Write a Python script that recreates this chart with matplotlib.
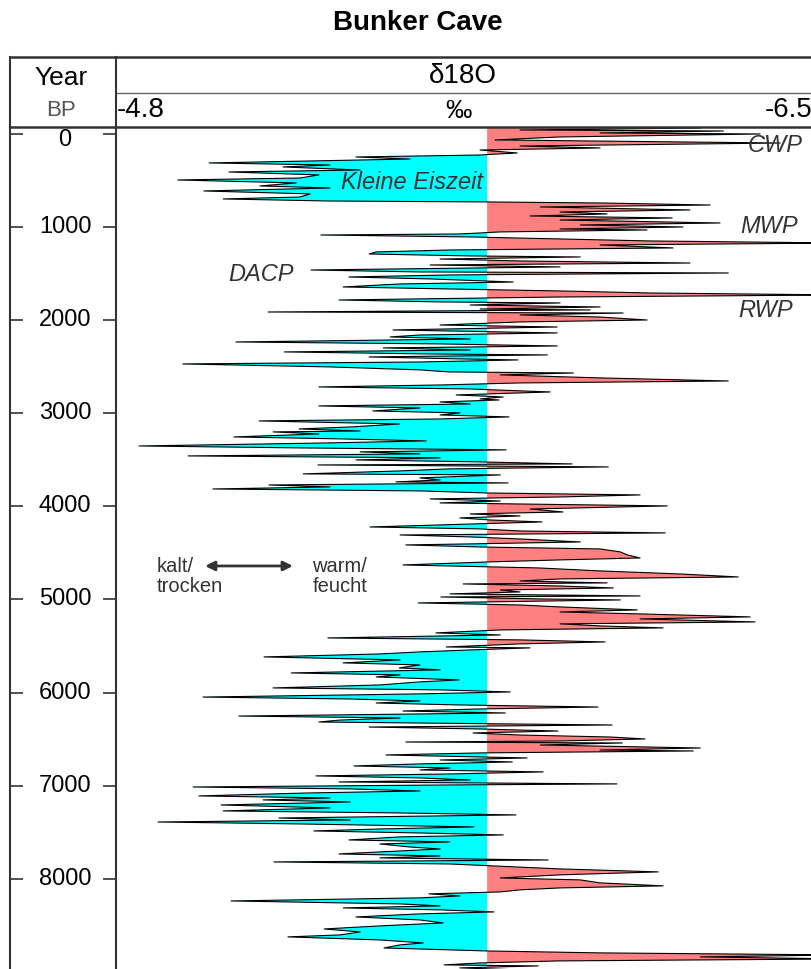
import numpy as np
import matplotlib
matplotlib.use('Agg')
import matplotlib.pyplot as plt
from matplotlib.lines import Line2D

plt.rcParams['font.family'] = ['Liberation Sans', 'DejaVu Sans']

# Bunker Cave d18O record (years BP, permil)
years = [-64, -43, -32, -11, 0, 32, 64, 97, 129, 150, 172, 204, 226, 247, 269, 311, 333, 354, 387, 408,
         440, 473, 494, 526, 558, 580, 612, 644, 677, 698, 720, 730, 741, 763, 784, 816, 838, 859, 881, 902,
         924, 956, 977, 999, 1020, 1031, 1052, 1074, 1085, 1106, 1128, 1149, 1171, 1192, 1224, 1246, 1267, 1289, 1310, 1321,
         1343, 1364, 1386, 1407, 1428, 1461, 1482, 1493, 1514, 1536, 1557, 1590, 1611, 1643, 1665, 1686, 1708, 1729, 1751, 1772,
         1783, 1804, 1815, 1837, 1858, 1880, 1890, 1912, 1923, 1944, 1966, 1998, 2019, 2052, 2073, 2105, 2137, 2159, 2180, 2202,
         2234, 2255, 2277, 2298, 2320, 2341, 2363, 2373, 2395, 2416, 2427, 2449, 2470, 2502, 2534, 2556, 2567, 2588, 2620, 2653,
         2674, 2696, 2717, 2739, 2771, 2803, 2825, 2846, 2857, 2878, 2900, 2921, 2943, 2975, 2996, 3018, 3039, 3061, 3082, 3115,
         3147, 3168, 3190, 3200, 3222, 3254, 3275, 3297, 3318, 3351, 3372, 3393, 3415, 3436, 3458, 3479, 3501, 3522, 3544, 3555,
         3576, 3597, 3619, 3651, 3662, 3694, 3716, 3737, 3748, 3770, 3791, 3813, 3834, 3856, 3877, 3899, 3920, 3942, 3963, 3995,
         4028, 4060, 4081, 4103, 4124, 4146, 4167, 4199, 4221, 4242, 4264, 4285, 4307, 4328, 4350, 4382, 4403, 4414, 4436, 4457,
         4489, 4521, 4554, 4575, 4596, 4629, 4650, 4661, 4693, 4726, 4758, 4779, 4801, 4822, 4833, 4855, 4876, 4898, 4919, 4940,
         4962, 4973, 4994, 5005, 5037, 5059, 5080, 5112, 5134, 5155, 5187, 5209, 5241, 5262, 5284, 5305, 5327, 5359, 5381, 5413,
         5434, 5456, 5477, 5510, 5520, 5542, 5563, 5585, 5617, 5649, 5681, 5703, 5735, 5756, 5789, 5810, 5832, 5864, 5885, 5918,
         5950, 5971, 5993, 6014, 6048, 6069, 6090, 6112, 6133, 6155, 6176, 6198, 6219, 6252, 6273, 6295, 6316, 6348, 6370, 6391,
         6413, 6434, 6456, 6477, 6498, 6520, 6531, 6541, 6563, 6595, 6617, 6627, 6648, 6670, 6702, 6724, 6745, 6766, 6788, 6810,
         6831, 6852, 6874, 6895, 6917, 6938, 6960, 6981, 6992, 7014, 7035, 7057, 7078, 7110, 7132, 7153, 7175, 7207, 7239, 7271,
         7293, 7314, 7347, 7368, 7390, 7411, 7443, 7465, 7486, 7508, 7529, 7550, 7583, 7604, 7626, 7658, 7680, 7701, 7733, 7755,
         7776, 7798, 7819, 7841, 7873, 7894, 7926, 7958, 7991, 8012, 8044, 8076, 8098, 8119, 8141, 8162, 8184, 8205, 8238, 8270,
         8291, 8313, 8334, 8356, 8377, 8410, 8442, 8474, 8506, 8539, 8571, 8603, 8624, 8657, 8689, 8710, 8743, 8775, 8796, 8818,
         8839, 8861, 8882, 8904, 8925, 8936, 8957, 8979, 9050]
d18o = [-6.217, -5.780, -6.273, -5.974, -6.362, -5.877, -5.719, -6.411, -5.780, -5.974, -5.683, -5.773, -5.681, -5.382, -5.513, -5.026, -5.319, -5.205, -5.392, -5.074,
        -5.292, -5.246, -4.950, -5.237, -5.149, -5.319, -5.013, -5.271, -5.246, -5.060, -5.319, -5.700, -5.974, -6.241, -5.829, -6.192, -5.877, -5.991, -5.804, -6.149,
        -5.877, -6.265, -5.926, -6.175, -5.877, -6.088, -5.732, -5.634, -5.297, -5.659, -5.877, -6.095, -6.560, -5.974, -6.151, -5.610, -5.431, -5.414, -5.659, -5.926,
        -5.586, -5.780, -6.192, -5.562, -5.877, -5.273, -5.537, -6.285, -5.610, -5.365, -5.562, -5.763, -5.489, -5.351, -5.610, -5.877, -6.095, -6.560, -5.877, -5.537,
        -5.341, -5.586, -5.877, -5.659, -5.974, -5.683, -5.950, -5.169, -6.030, -5.780, -5.974, -6.088, -5.780, -5.586, -5.870, -5.472, -5.870, -5.537, -5.465, -5.659,
        -5.091, -5.586, -5.870, -5.448, -5.659, -5.208, -5.562, -5.846, -5.414, -5.634, -5.775, -5.537, -4.962, -5.319, -5.537, -5.608, -5.909, -5.732, -5.974, -6.285,
        -5.780, -5.586, -5.292, -5.659, -5.853, -5.625, -5.739, -5.683, -5.729, -5.586, -5.659, -5.292, -5.537, -5.423, -5.634, -5.586, -5.753, -5.586, -5.147, -5.487,
        -5.368, -5.244, -5.392, -5.181, -5.292, -5.086, -5.343, -5.552, -5.319, -4.856, -5.246, -5.746, -5.392, -5.537, -4.975, -5.586, -5.382, -5.681, -5.906, -5.290,
        -5.994, -5.610, -5.489, -5.254, -5.732, -5.537, -5.586, -5.479, -5.751, -5.171, -5.319, -5.035, -5.537, -5.700, -6.071, -5.877, -5.562, -5.732, -5.586, -6.137,
        -5.804, -5.884, -5.659, -5.780, -5.634, -5.707, -5.833, -5.586, -5.416, -5.683, -5.780, -6.132, -5.489, -5.659, -5.780, -5.926, -5.659, -5.503, -5.683, -5.974,
        -6.023, -6.040, -6.071, -5.877, -5.707, -5.496, -5.707, -5.824, -5.974, -6.168, -6.309, -5.877, -5.780, -5.991, -5.642, -5.877, -6.006, -5.732, -5.780, -5.610,
        -6.071, -5.588, -5.829, -6.023, -5.533, -5.780, -5.877, -6.064, -5.877, -6.071, -6.338, -6.071, -6.350, -5.877, -5.974, -6.127, -5.732, -5.576, -5.732, -5.314,
        -5.780, -5.986, -5.780, -5.601, -5.804, -5.659, -5.537, -5.440, -5.159, -5.489, -5.351, -5.537, -5.487, -5.586, -5.225, -5.489, -5.431, -5.632, -5.537, -5.440,
        -5.181, -5.586, -5.756, -5.537, -5.011, -5.368, -5.537, -5.431, -5.634, -5.969, -5.683, -5.496, -5.744, -5.098, -5.489, -5.343, -5.292, -6.003, -5.414, -5.683,
        -5.872, -5.666, -5.780, -5.998, -6.083, -5.877, -5.503, -6.028, -5.829, -6.217, -5.974, -6.200, -5.683, -5.455, -5.797, -5.586, -5.761, -5.537, -5.377, -5.610,
        -5.537, -5.836, -5.610, -5.285, -5.537, -5.659, -5.341, -6.015, -5.610, -4.987, -5.368, -5.537, -5.268, -5.001, -5.319, -5.157, -5.368, -5.055, -5.319, -5.060,
        -5.489, -5.770, -5.195, -5.368, -4.902, -5.246, -5.668, -5.440, -5.280, -5.537, -5.739, -5.489, -5.365, -5.610, -5.440, -5.511, -5.586, -5.489, -5.341, -5.586,
        -5.440, -5.848, -5.183, -5.610, -5.770, -5.877, -6.115, -5.877, -5.732, -5.926, -5.974, -6.127, -5.877, -5.780, -5.732, -5.559, -5.634, -5.537, -5.079, -5.489,
        -5.586, -5.351, -5.586, -5.717, -5.537, -5.382, -5.537, -5.593, -5.440, -5.305, -5.392, -5.343, -5.217, -5.440, -5.545, -5.489, -5.450, -5.698, -5.974, -6.560,
        -6.217, -6.560, -5.877, -5.683, -5.596, -5.824, -5.634, -5.780, -5.700]
baseline = -5.7
tick_years = [0, 1000, 2000, 3000, 4000, 5000, 6000, 7000, 8000]

W, H = 812, 969
fig = plt.figure(figsize=(W / 100, H / 100), dpi=100)


def fx(px):
    return px / W


def fy(py):
    return 1 - py / H


# main profile
ax = fig.add_axes([fx(116), 0, (812 - 116) / W, (969 - 127) / H])
x = np.array(d18o)
y = np.array(years)
ax.fill_betweenx(y, x, baseline, where=x > baseline, interpolate=True, color='#00ffff', lw=0)
ax.fill_betweenx(y, x, baseline, where=x < baseline, interpolate=True, color='#ff8080', lw=0)
ax.plot(x, y, color='black', lw=0.8)
ax.set_xlim(-4.8, -6.488)
ax.set_ylim(8969, -75)
ax.set_xticks([])
ax.set_yticks([])
for s in ax.spines.values():
    s.set_visible(False)

ann = dict(color='#333333', fontsize=17, style='italic')
ax.text(-5.69, 516, 'Kleine Eiszeit', ha='right', va='center', **ann)
ax.text(-5.072, 1514, 'DACP', ha='left', va='center', **ann)
ax.text(-6.333, 129, 'CWP', ha='left', va='center', **ann)
ax.text(-6.314, 999, 'MWP', ha='left', va='center', **ann)
ax.text(-6.309, 1901, 'RWP', ha='left', va='center', **ann)
ax.text(-4.899, 4750, 'kalt/\ntrocken', ha='left', va='center', fontsize=14.5,
        color='#333333', linespacing=1.05)
ax.text(-5.276, 4750, 'warm/\nfeucht', ha='left', va='center', fontsize=14.5,
        color='#333333', linespacing=1.05)
ax.annotate('', xy=(-5.229, 4640), xytext=(-5.016, 4640),
            arrowprops=dict(arrowstyle='<|-|>', color='#333333', lw=2, mutation_scale=14,
                            shrinkA=0, shrinkB=0))

# year column (own axes, same y range as the profile)
axl = fig.add_axes([fx(10), 0, (116 - 10) / W, (969 - 127) / H])
axl.set_ylim(8969, -75)
axl.set_xticks([])
axl.set_yticks(tick_years)
axl.set_yticklabels([])
axl.tick_params(axis='y', direction='in', length=9.5, width=1.2, left=True, right=True,
                labelleft=False, labelright=False, color='#333333')
for side in ['top', 'bottom']:
    axl.spines[side].set_visible(False)
for side in ['left', 'right']:
    axl.spines[side].set_linewidth(1.5)
    axl.spines[side].set_color('#333333')
for t in tick_years:
    # the 0 label sits a little lower, clear of the header rule
    ty = 70 if t == 0 else t
    axl.text(0.52, ty, str(t), transform=axl.get_yaxis_transform(), ha='center', va='center',
             fontsize=17)

# header box
lc = '#333333'
fig.add_artist(Line2D([fx(10), fx(812)], [fy(57), fy(57)], color=lc, lw=1.8))
fig.add_artist(Line2D([fx(10), fx(812)], [fy(127), fy(127)], color=lc, lw=1.8))
fig.add_artist(Line2D([fx(116), fx(812)], [fy(93), fy(93)], color='#666666', lw=1))
fig.add_artist(Line2D([fx(10), fx(10)], [fy(57), fy(127)], color=lc, lw=1.5))
fig.add_artist(Line2D([fx(116), fx(116)], [fy(57), fy(127)], color=lc, lw=1.5))

fig.text(fx(418), fy(23), 'Bunker Cave', ha='center', va='center', fontsize=20, weight='bold')
fig.text(fx(61), fy(78), 'Year', ha='center', va='center', fontsize=19)
fig.text(fx(61), fy(110), 'BP', ha='center', va='center', fontsize=16, color='#555555')
fig.text(fx(463), fy(76), 'δ18O', ha='center', va='center', fontsize=20)
fig.text(fx(458), fy(111), '‰', ha='center', va='center', fontsize=19)
fig.text(fx(117), fy(110), '-4.8', ha='left', va='center', fontsize=20)
fig.text(fx(813), fy(110), '-6.5', ha='right', va='center', fontsize=20)

fig.savefig('out.png', dpi=100)
